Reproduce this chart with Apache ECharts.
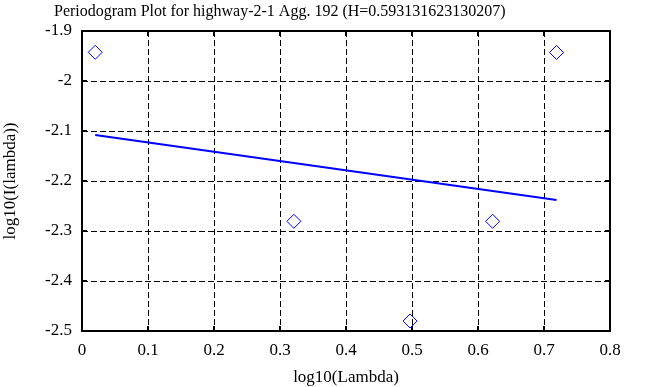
<!DOCTYPE html>
<html><head><meta charset="utf-8">
<script src="https://cdn.jsdelivr.net/npm/echarts@6/dist/echarts.min.js"></script>
<style>html,body{margin:0;padding:0;background:#fff}#c{width:668px;height:387px}</style>
</head><body><div id="c"></div>
<script>
const titleText = 'Periodogram Plot for highway-2-1 Agg. 192 (H=0.593131623130207)';
const xName = 'log10(Lambda)';
const yName = 'log10(I(lambda))';
const lambdaLog = [0.0200, 0.3210, 0.4971, 0.6221, 0.7190];
const periodLog = [-1.9426, -2.2806, -2.4800, -2.2806, -1.9430];
const fitX = [0.0200, 0.7190];
const fitY = [-2.108, -2.238];
const xRange = [0, 0.8, 0.1];
const yRange = [-2.5, -1.9, 0.1];

const font = 'Liberation Serif';
const chart = echarts.init(document.getElementById('c'), null, {renderer: 'canvas'});
const axisCommon = {
  axisLine: {show: true, onZero: false, lineStyle: {color: '#000', width: 2}},
  axisTick: {show: true, inside: true, length: 5, lineStyle: {color: '#000', width: 2}},
  splitLine: {show: false},
};
const gridLine = {show: true, lineStyle: {color: '#000', type: [6, 3], width: 1}};
chart.setOption({
  animation: false,
  backgroundColor: '#fff',
  title: {text: titleText, left: 49, top: -1, textStyle: {fontFamily: font, fontSize: 16, fontWeight: 'normal', color: '#000'}},
  grid: {left: 82, right: 58, top: 31, bottom: 56, containLabel: false, outerBoundsMode: 'none'},
  xAxis: [
    Object.assign({}, axisCommon, {type: 'value', min: xRange[0], max: xRange[1], interval: xRange[2], position: 'bottom',
      name: xName, nameLocation: 'middle', nameGap: 38,
      nameTextStyle: {fontFamily: font, fontSize: 17, color: '#000'},
      axisLabel: {fontFamily: font, fontSize: 17, color: '#000', margin: 11},
      splitLine: gridLine}),
    Object.assign({}, axisCommon, {type: 'value', min: xRange[0], max: xRange[1], interval: xRange[2], position: 'top', axisLabel: {show: false}})
  ],
  yAxis: [
    Object.assign({}, axisCommon, {type: 'value', min: yRange[0], max: yRange[1], interval: yRange[2], position: 'left',
      name: yName, nameLocation: 'middle', nameGap: 63, nameRotate: 90,
      nameTextStyle: {fontFamily: font, fontSize: 17, color: '#000'},
      axisLabel: {fontFamily: font, fontSize: 17, color: '#000', margin: 10},
      splitLine: gridLine}),
    Object.assign({}, axisCommon, {type: 'value', min: yRange[0], max: yRange[1], interval: yRange[2], position: 'right', axisLabel: {show: false}})
  ],
  series: [
    {type: 'scatter', data: lambdaLog.map((x, i) => [x, periodLog[i]]), symbol: 'diamond', symbolSize: 14, z: 5,
      silent: true, emphasis: {disabled: true},
      itemStyle: {color: 'rgba(0,0,0,0)', borderColor: '#0000ff', borderWidth: 1, opacity: 1}},
    {type: 'line', data: fitX.map((x, i) => [x, fitY[i]]), symbol: 'none', silent: true, emphasis: {disabled: true},
      lineStyle: {color: '#0000ff', width: 2}}
  ]
});
</script></body></html>
